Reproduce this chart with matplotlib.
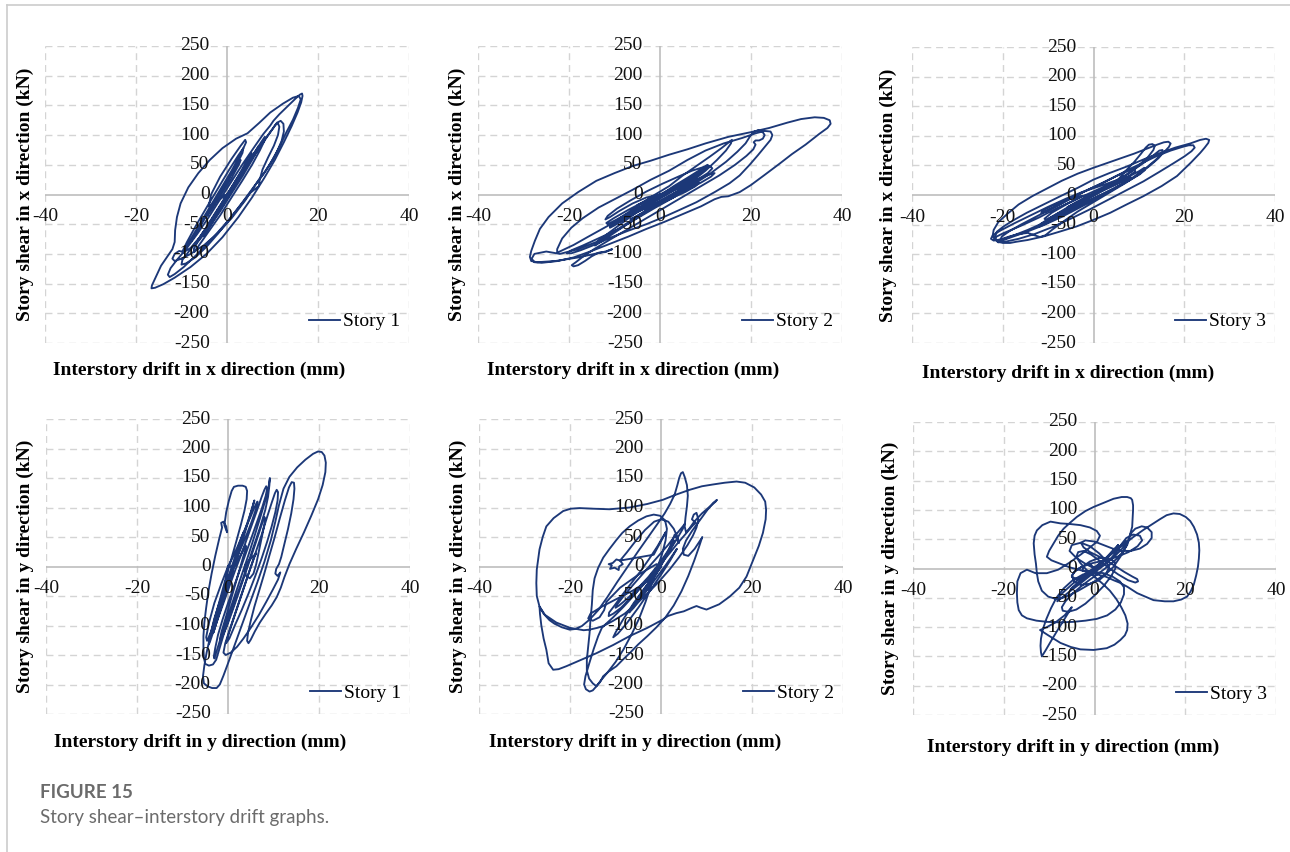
import numpy as np
import matplotlib
matplotlib.use("Agg")
import matplotlib.pyplot as plt
from matplotlib.lines import Line2D

# (interstory drift mm, story shear kN)
x_story1 = [
    (0, 0), (1.5, 18), (3, 38), (4.2, 55), (5, 66), (5.4, 70), (5.3, 64), (4.5, 50), (3, 30), (1, 5),
    (-1, -20), (-3, -44), (-4.5, -62), (-5.2, -70), (-5, -64), (-4, -50), (-2.2, -28), (0, -2), (2, 22),
    (4, 46), (6, 70), (7.5, 88), (8.3, 97), (8.2, 90), (7.2, 74), (5.5, 50), (3.5, 25), (1, -5),
    (-1.5, -35), (-4, -62), (-6, -84), (-7.2, -97), (-7.3, -92), (-6.2, -76), (-4, -50), (-1.5, -20),
    (1, 10), (3.5, 38), (6, 66), (8, 88), (9.6, 106), (10.6, 117), (11.2, 120), (11.5, 114), (11.2, 100),
    (10.3, 82), (9, 62), (7.8, 42), (7.2, 25), (7, 14), (6.3, 10), (5, 2), (3, -18), (0.5, -42), (-2, -66),
    (-4.5, -88), (-7, -106), (-9, -116), (-10, -118), (-9.8, -110), (-8.5, -97), (-6.5, -78), (-4, -50),
    (-1.5, -20), (1, 10), (3.5, 38), (6, 68), (8.2, 92), (10, 110), (11, 121), (11.8, 124), (12.4, 119),
    (12.5, 106), (12, 90), (11, 72), (9.5, 52), (8, 34), (6, 14), (3.5, -12), (0.5, -42), (-3, -72),
    (-6.5, -100), (-9.5, -122), (-11.5, -134), (-12.6, -139), (-13, -135), (-12.4, -124), (-11, -110),
    (-9, -92), (-6.5, -66), (-4, -38), (-1.5, -8), (1, 22), (3.5, 52), (6, 80), (8, 102), (9.5, 116),
    (10.2, 124), (11.5, 135), (13.5, 150), (15, 161), (16, 168), (16.5, 170), (16.6, 166), (16.3, 155),
    (15.5, 138), (14.2, 115), (12.5, 88), (10.5, 58), (8.2, 28), (5.5, -5), (2.5, -38), (-1, -72),
    (-4.5, -100), (-8, -122), (-11.5, -140), (-14, -151), (-15.8, -157), (-16.6, -158), (-16.5, -153),
    (-15.6, -138), (-14.5, -120), (-13, -103), (-12, -92), (-11.5, -80), (-11.4, -60), (-11, -38),
    (-10.2, -15), (-8.5, 12), (-6.3, 36), (-3.8, 58), (-1, 78), (2, 94), (4.5, 103), (7, 120), (9.5, 138),
    (12.3, 153), (14.5, 163), (15.8, 166), (16.2, 160), (15.6, 146), (14.5, 126), (13, 104), (11.5, 80),
    (10, 58), (8.5, 40), (7, 25), (4, -10), (1, -40), (-2, -65), (-5, -85), (-8, -100), (-10, -108),
    (-11.5, -112), (-12, -108), (-11.5, -100), (-10.5, -95), (-9.5, -97), (-8, -90), (-6, -72), (-3.5, -45),
    (-1, -15), (1.5, 15), (4, 45), (6, 70), (7, 82), (6.8, 76), (5.5, 58), (3.5, 32), (1, 2), (-1.5, -28),
    (-4, -56), (-6, -76), (-7, -84), (-6.5, -78), (-4.8, -58), (-2.5, -30), (0, 0), (2, 25), (4, 48),
    (5.3, 62), (5, 56), (3.5, 36), (1.5, 12), (-0.5, -12), (-2.5, -36), (-3.8, -50), (-3.5, -44),
    (-2, -26), (0, 0), (-2, -10), (-4, -20), (-3.5, 0), (-1.5, 30), (1, 60), (3, 82), (4, 92), (4.2, 88),
    (3, 68), (1, 40), (-1.5, 8), (-4, -24), (-6.5, -56), (-8.5, -82), (-9.6, -98), (-9.8, -96),
    (-8.8, -80), (-6.8, -52), (-4.5, -22), (-2, 10), (0.5, 42), (2.5, 66), (3.6, 78), (3.4, 70), (2, 48),
    (-0.5, 16), (-3, -16), (-5.5, -48), (-7.2, -70), (-7.8, -78), (-7, -68), (-5, -40), (-2.5, -8),
    (0, 22), (2, 48), (3, 58), (2.6, 50), (1, 28), (-1.5, -2), (-3.5, -26), (-4.4, -36), (-3.8, -28),
    (-2, -6), (0, 0),
]

x_story2 = [
    (0, 0), (2, 8), (4, 16), (6, 25), (7.5, 32), (8.3, 36), (8, 31), (6.5, 23), (4.5, 13), (2, 2),
    (-1, -10), (-4, -22), (-6.5, -33), (-8, -40), (-8.5, -42), (-8, -37), (-6, -28), (-3, -15), (0, -2),
    (3, 14), (6, 28), (8.5, 40), (10, 48), (10.5, 50), (10.2, 44), (8.5, 34), (6, 22), (3, 8), (-0.5, -8),
    (-4, -24), (-7.5, -40), (-10, -52), (-11, -56), (-10.6, -50), (-8.5, -38), (-5, -20), (-1.5, -2),
    (2, 14), (5, 32), (8, 48), (11, 64), (13.5, 78), (15, 87), (15.8, 92), (15.6, 86), (14.5, 74),
    (12.5, 58), (10, 40), (7, 22), (3.5, 4), (0, -14), (-4, -34), (-8, -54), (-11.5, -72), (-13.5, -82),
    (-14.3, -86), (-13.8, -80), (-11.5, -66), (-8, -46), (-4, -24), (0, -4), (-4, -20), (-8, -38),
    (-12, -55), (-16, -72), (-19, -85), (-21.5, -94), (-22.6, -98), (-22.6, -92), (-21.5, -74),
    (-19.5, -56), (-17, -40), (-13.5, -22), (-10, -8), (-6, 8), (-2, 25), (2, 40), (6, 58), (10, 74),
    (14, 86), (18, 95), (21, 103), (23, 107), (24.3, 106), (24.7, 100), (24.3, 92), (23, 80), (21.5, 66),
    (19.7, 50), (17.5, 32), (15.3, 19), (12, 4), (8, -13), (4, -27), (0.5, -39), (-3, -50), (-7, -61),
    (-11, -73), (-14.5, -85), (-17.5, -94), (-19.5, -99), (-20.5, -99), (-19.5, -94), (-17, -86),
    (-13, -72), (-9, -58), (-5, -40), (-1, -22), (3, -5), (7, 15), (11, 35), (14.5, 55), (17, 72),
    (18.8, 86), (19.8, 98), (20.5, 105), (21.5, 108), (22.5, 106), (23, 100), (22.6, 94), (21.8, 91),
    (21, 91), (20.6, 88), (21, 84), (20.5, 76), (19, 65), (16.5, 50), (13, 32), (9, 14), (5, -4), (1, -22),
    (-3, -40), (-7, -58), (-11, -76), (-14.5, -92), (-17, -105), (-18.5, -114), (-19.4, -119), (-19, -121),
    (-18, -119), (-16.5, -112), (-15, -104), (-13.5, -98), (-12, -97), (-10.5, -92), (-12, -96),
    (-18, -106), (-23, -112), (-27, -114), (-28.3, -112), (-28.6, -105), (-28.3, -95), (-27.5, -78),
    (-26.4, -58), (-24.5, -38), (-21.5, -15), (-18, 4), (-14, 23), (-10, 36), (-6, 48), (-2, 57), (2, 67),
    (6, 76), (10, 86), (15, 97), (20, 105), (24, 112), (28, 121), (31, 127), (34, 130), (36, 129),
    (37.3, 125), (37.5, 119), (36.8, 112), (35, 102), (32, 84), (29, 68), (26.3, 52), (23, 33), (20, 16),
    (17.5, 4), (15, -3), (13.5, -4), (12, -8), (9, -20), (5, -33), (1, -46), (-3, -58), (-7, -71),
    (-11, -83), (-15, -95), (-19, -106), (-22.5, -112), (-26, -115), (-27.6, -114), (-28.2, -108),
    (-27.6, -100), (-25, -96), (-22, -100), (-18, -92), (-14, -80), (-10, -62), (-6, -42), (-2, -22),
    (2, -5), (5, 8), (7.5, 17), (8.5, 20), (7.8, 14), (5.5, 4), (2, -8), (-2, -20), (-5.5, -30),
    (-6.5, -33), (-5, -25), (-2, -12), (1, 2), (4, 16), (7, 30), (9, 40), (9.8, 44), (9.2, 38), (7, 28),
    (4, 14), (0.5, -2), (-3, -16), (-6.5, -30), (-9.5, -42), (-11.5, -50), (-11.8, -48), (-10.2, -40),
    (-7, -26), (-3, -10), (0, 0), (-3, -5), (-6, -15), (-9, -28), (-11, -38), (-12, -42), (-11.5, -36),
    (-9.5, -24), (-6.5, -10), (-3, 5), (0.5, 18), (4, 30), (7, 40), (9.5, 46), (11, 48), (11.5, 44),
    (10.5, 36), (8, 24), (5, 10), (1.5, -4), (-2, -18), (-5.5, -32), (-8.5, -44), (-10.5, -52),
    (-11, -54), (-10, -48), (-7.5, -36), (-4.5, -22), (-1, -8), (2.5, 6), (6, 18), (9, 28), (11, 34),
    (12, 36), (11.2, 30), (9, 20), (6, 8), (2.5, -6), (-1, -20), (-4, -32), (-6, -40), (-6.5, -42),
    (-5, -36), (-2.5, -24), (0.5, -10), (3.5, 2), (6.5, 14), (8, 20), (6, 16), (3, 8), (0, -2),
    (-3, -12), (-5, -18), (-3, -10), (0, 0),
]

x_story3 = [
    (0, 0), (2, 7), (4, 14), (6, 21), (7.5, 27), (8.2, 30), (8, 26), (6.5, 19), (4.5, 11), (2, 2),
    (-1, -9), (-4, -20), (-6.5, -30), (-8.3, -37), (-9, -40), (-8.6, -35), (-7, -28), (-4, -16), (-1, -4),
    (2, 8), (5, 20), (8, 32), (10, 40), (11.2, 46), (11.3, 42), (10.2, 35), (8, 25), (5, 13), (2, 1),
    (-2, -14), (-6, -30), (-9.5, -44), (-11.8, -53), (-12.3, -54), (-11.5, -48), (-9, -36), (-5.5, -20),
    (-2, -5), (2, 10), (5, 22), (7, 40), (9, 56), (10.5, 70), (11.5, 80), (12.2, 85), (13, 86), (13.5, 83),
    (13.2, 76), (12, 64), (10, 50), (7.5, 35), (4.5, 19), (1, 3), (-3, -14), (-7, -31), (-11, -47),
    (-14.5, -59), (-17.5, -68), (-19.6, -74), (-21, -77), (-21.8, -75), (-22.2, -68), (-22, -59), (-21, -46),
    (-19, -32), (-16.5, -16), (-13.5, -2), (-10, 12), (-7, 24), (-3.5, 36), (0, 46), (3, 54), (6, 62),
    (9, 70), (12, 79), (14, 85), (15.5, 89), (16.5, 90), (17, 87), (16.6, 81), (15.5, 72), (13.5, 58),
    (11, 42), (8, 26), (4.5, 10), (1, -5), (-3, -21), (-7, -37), (-11, -51), (-15, -63), (-18, -71),
    (-19.8, -76), (-20.5, -75), (-20.2, -70), (-18.5, -61), (-16, -50), (-13, -38), (-9.5, -24), (-6, -10),
    (-2.5, 4), (1, 17), (4.5, 30), (8, 44), (11, 55), (14, 66), (17, 75), (19.5, 81), (21, 84), (22, 84),
    (22.3, 80), (21.6, 74), (20, 65), (17.5, 53), (14.5, 39), (11, 23), (7, 7), (3, -9), (-1, -25),
    (-5, -40), (-9, -54), (-13, -66), (-16.5, -74), (-19.5, -79), (-21, -80), (-21.5, -76), (-21.7, -70),
    (-21.3, -62), (-19.8, -53), (-17.5, -42), (-14.7, -30), (-11, -16), (-7.3, -2), (-3.5, 12), (0, 26),
    (3.5, 37), (7.3, 48), (11, 60), (14.7, 71), (18, 80), (21.3, 87), (23.5, 93), (24.8, 95), (25.5, 93),
    (25.3, 88), (24.5, 80), (23.5, 71), (21.5, 55), (18.4, 32), (15, 15), (11, -2), (7.3, -16), (3.7, -30),
    (0, -42), (-3.7, -53), (-7.5, -62), (-11, -70), (-14.5, -76), (-17, -79), (-18.4, -81), (-20, -81),
    (-21.3, -78), (-21.8, -72), (-20, -65), (-16, -52), (-12, -38), (-8, -22), (-4, -8), (0, 6), (4, 20),
    (8, 38), (11, 54), (13.2, 67), (14.5, 75), (15.2, 76), (15.3, 71), (14.3, 62), (12.5, 50), (10, 35),
    (7, 20), (3.5, 4), (0, -12), (-3.5, -28), (-6.5, -44), (-9, -58), (-10.6, -68), (-11.8, -71),
    (-13, -68), (-14.5, -64), (-16.5, -66), (-18.5, -70), (-20.5, -75), (-22, -77), (-22.6, -74),
    (-22.2, -68), (-20.5, -60), (-17.5, -48), (-14, -35), (-10, -20), (-6, -6), (-2.5, 5), (1, 14), (4, 22),
    (5.5, 26), (5, 22), (3, 14), (0, 2), (-3, -10), (-5.5, -20), (-5.8, -21), (-4, -13), (-1.5, -4), (0, 0),
    (-3, -2), (-6, -8), (-9, -18), (-11, -26), (-11.5, -30), (-10.5, -28), (-8, -18), (-5, -6), (-1.5, 8),
    (2, 20), (5, 32), (7.5, 40), (9, 44), (9.2, 40), (7.8, 32), (5, 20), (1.5, 6), (-2, -8), (-5.5, -22),
    (-8.5, -34), (-10.5, -42), (-10.8, -40), (-9.2, -30), (-6, -16), (-2.5, -2), (0, 0),
]

y_story1 = [
    (0, 0), (1, 15), (2, 32), (3, 50), (4, 68), (5, 85), (5.8, 100), (6.3, 108), (6.5, 110), (6.4, 104),
    (6, 94), (5.2, 76), (4.2, 56), (3, 34), (1.8, 12), (0.5, -12), (-0.8, -38), (-2, -64), (-3, -88),
    (-3.7, -110), (-4.1, -126), (-4.2, -132), (-3.9, -126), (-3.2, -110), (-2.2, -88), (-1, -62), (0.3, -34),
    (1.6, -6), (3, 22), (4.3, 50), (5.5, 76), (6.6, 100), (7.4, 118), (8, 130), (8.4, 136), (8.6, 132),
    (8.3, 120), (7.5, 100), (6.5, 78), (5.3, 52), (4, 24), (2.7, -4), (1.3, -34), (0, -62), (-1.2, -90),
    (-2.2, -116), (-2.8, -138), (-3.1, -152), (-3, -156), (-2.6, -146), (-1.8, -126), (-0.7, -100),
    (0.5, -72), (1.8, -42), (3.2, -10), (4.6, 22), (6, 56), (7.2, 86), (8.2, 112), (8.9, 134), (9.2, 150),
    (9.1, 138), (8.8, 118), (8.2, 96), (7.2, 70), (6, 42), (4.7, 12), (3.3, -20), (1.8, -52), (0.4, -84),
    (-0.9, -114), (-1.9, -140), (-2.6, -158), (-3.3, -166), (-4.2, -168), (-5, -165), (-5.3, -155),
    (-5.4, -138), (-5.4, -118), (-5.2, -95), (-4.8, -70), (-4.3, -42), (-3.6, -12), (-2.8, 18), (-1.9, 48),
    (-1.3, 66), (-1.5, 74), (-1, 76), (-0.4, 68), (-0.2, 58), (-0.8, 70), (-0.4, 92), (0.2, 112),
    (0.8, 128), (1.3, 135), (2.2, 137), (3.2, 137), (3.9, 135), (4.2, 128), (4.1, 114), (3.6, 94),
    (2.8, 70), (1.8, 42), (0.7, 12), (-0.5, -20), (-1.7, -54), (-2.9, -88), (-3.9, -118), (-4.7, -146),
    (-5.2, -168), (-5.5, -186), (-5.3, -198), (-4.5, -203), (-3.5, -206), (-2.5, -206), (-1.8, -200),
    (-1, -185), (0.2, -160), (1.6, -130), (3.2, -96), (4.8, -62), (6.4, -28), (8, 8), (9.4, 44),
    (10.4, 76), (11.2, 104), (12.2, 132), (13.5, 152), (15.2, 168), (17, 181), (18.7, 191), (19.8, 195),
    (20.6, 194), (21.2, 188), (21.5, 176), (21.4, 160), (20.8, 138), (19.8, 114), (18.3, 86), (16.7, 58),
    (15, 30), (13.5, 4), (12.4, -18), (11.6, -36), (10.7, -52), (9.6, -66), (8.3, -80), (7, -95),
    (5.9, -110), (5, -124), (4.5, -130), (4.2, -126), (4.4, -112), (5, -92), (5.8, -68), (6.8, -42),
    (7.9, -14), (9, 16), (10.2, 48), (11.4, 82), (12.5, 112), (13.4, 134), (14, 143), (14.5, 142),
    (14.6, 132), (14.4, 114), (13.9, 90), (13.2, 64), (12.4, 38), (11.7, 16), (11.2, 4), (10.6, -4),
    (10.4, -12), (10.9, -16), (11.5, -10), (11, -22), (9.8, -40), (8.4, -60), (6.8, -82), (5, -104),
    (3.4, -122), (2, -136), (0.6, -146), (-0.5, -150), (-1, -146), (-0.6, -130), (0.5, -104), (1.8, -74),
    (3.2, -42), (4.6, -10), (6, 22), (7.4, 54), (8.6, 84), (9.6, 108), (10.3, 124), (10.7, 130), (11, 126),
    (10.9, 112), (10.4, 92), (9.6, 68), (8.6, 42), (7.4, 14), (6, -16), (4.5, -46), (3, -74), (1.5, -100),
    (0.3, -122), (-0.4, -130), (0, -118), (1, -94), (2.2, -66), (3.5, -36), (4.8, -6), (5.8, 16), (6.2, 22),
    (5.6, 18), (4.6, 10), (3.9, 4), (3.6, -6), (4, -16), (4.8, -20), (5.6, -12), (6.2, 4), (6.8, 26),
    (7.6, 56), (8.2, 80), (8, 84), (7.2, 66), (6, 38), (4.6, 6), (3, -30), (1.4, -66), (0, -96),
    (-1.2, -118), (-1.8, -124), (-1.4, -110), (-0.4, -84), (0.8, -52), (2, -20), (3.2, 12), (4, 34),
    (3.8, 36), (2.8, 20), (1.4, 0), (0, 0), (-1.5, -30), (-3, -62), (-4.2, -96), (-4.8, -120),
    (-4.6, -126), (-3.6, -108), (-2.2, -76), (-0.8, -42), (0.8, -6), (2.4, 32), (4, 68), (5.2, 96),
    (5.8, 112), (5.6, 106), (4.6, 80), (3.2, 44), (1.6, 6), (0, -34), (-1.6, -72), (-2.8, -102),
    (-3.2, -112), (-2.6, -96), (-1.2, -62), (0.2, -28), (1.6, 8), (2.8, 40), (3.4, 58), (3, 50),
    (1.8, 22), (0.4, -10), (-0.6, -30), (0, 0),
]

y_story2 = [
    (0, 0), (-1, -12), (-2.5, -28), (-4, -45), (-5, -58), (-5.3, -62), (-4.8, -56), (-3.5, -40), (-1.8, -20),
    (0, 2), (1.5, 22), (2.6, 38), (3, 44), (2.6, 40), (1.3, 24), (-0.5, 4), (-2.8, -18), (-5.2, -38),
    (-7.5, -55), (-9.2, -66), (-10, -70), (-9.6, -64), (-8.2, -50), (-6, -30), (-3.5, -8), (-1, 14),
    (1.5, 36), (3.5, 56), (4.8, 68), (5.2, 72), (4.8, 64), (3.6, 48), (1.8, 26), (-0.5, 2), (-3, -22),
    (-5.6, -46), (-8.2, -68), (-10.5, -86), (-12.2, -98), (-13, -104), (-13.8, -118), (-14.8, -140),
    (-15.8, -165), (-16.6, -186), (-16.9, -200), (-16.5, -208), (-15.7, -212), (-15, -210), (-14.3, -204),
    (-13.2, -193), (-11.8, -180), (-10, -162), (-8.2, -140), (-6.4, -114), (-4.8, -88), (-3.4, -60),
    (-2.2, -32), (-1, -6), (0.2, 20), (1, 44), (1.3, 64), (0.9, 78), (-0.2, 86), (-1.6, 88), (-3.2, 85),
    (-5, 78), (-6.9, 68), (-8.5, 57), (-9.8, 45), (-11.3, 30), (-12.7, 15), (-13.8, -2), (-14.6, -20),
    (-15, -40), (-15.2, -65), (-15.5, -90), (-15.7, -113), (-16, -136), (-16.3, -158), (-16.3, -176),
    (-15.8, -190), (-15, -198), (-14.2, -203), (-13.4, -196), (-12.7, -186), (-11.5, -178), (-9.8, -169),
    (-8.4, -158), (-6.9, -147), (-5, -132), (-3, -118), (-1, -103), (1, -86), (2.8, -66), (4.5, -42),
    (6, -16), (7.3, 10), (8.3, 32), (8.9, 46), (9.1, 50), (8.6, 44), (7.4, 30), (6, 18), (5, 20), (4.8, 30),
    (5.5, 44), (6.8, 60), (8.5, 78), (10.2, 96), (11.5, 108), (12.3, 113), (12, 110), (10.8, 102), (9, 90),
    (7.3, 76), (6.2, 64), (5.5, 58), (5.2, 68), (5.4, 84), (5.7, 102), (5.9, 120), (5.7, 138), (5.2, 152),
    (4.8, 160), (4.4, 158), (4, 150), (3.6, 138), (3, 122), (2, 106), (0.8, 90), (-0.8, 72), (-2.8, 50),
    (-5, 26), (-7.3, 0), (-9.6, -26), (-11.8, -52), (-13.8, -74), (-15.7, -90), (-17.4, -101),
    (-18.9, -106), (-20.1, -107), (-21.8, -103), (-23.4, -97), (-24.5, -91), (-25.8, -80), (-26.7, -68),
    (-27.3, -50), (-27.4, -28), (-27.3, -5), (-26.7, 29), (-26, 50), (-25.2, 68), (-23.6, 82), (-21.5, 94),
    (-19.8, 98), (-17.9, 99), (-15, 98), (-11.3, 97), (-6.9, 100), (-3, 106), (0.4, 113), (3, 121),
    (6.3, 130), (9, 136), (11.4, 139), (14, 142), (16.6, 144), (18.5, 142), (20.5, 134), (22, 122),
    (22.9, 110), (23.1, 96), (23, 80), (22.4, 57), (21.5, 35), (20.2, 10), (18.8, -17), (17.2, -36),
    (15.1, -51), (12.8, -64), (10, -73), (8.8, -70), (7.8, -67), (6.8, -70), (5, -76), (3.4, -79),
    (1.5, -84), (0.4, -90), (-3, -104), (-6.9, -118), (-10.5, -133), (-14.2, -147), (-17.5, -158),
    (-20.8, -169), (-22.5, -174), (-23.7, -175), (-24.7, -164), (-25.2, -141), (-25.8, -122), (-26.3, -100),
    (-26.6, -80), (-26.7, -68), (-25.5, -82), (-23, -95), (-20, -104), (-17, -108), (-15.7, -107),
    (-14, -104), (-12.7, -101), (-10.5, -92), (-8, -80), (-5.5, -64), (-3, -46), (-0.5, -26), (2, -4),
    (4, 16), (5.8, 36), (7, 52), (7.8, 66), (8.2, 80), (7.8, 91), (7.2, 88), (6.8, 80), (7.6, 74),
    (6.8, 68), (5.5, 56), (3.5, 38), (1, 14), (-1.5, -10), (-4, -32), (-6.5, -52), (-8.8, -70),
    (-10.5, -80), (-11.5, -84), (-11.4, -78), (-10.2, -66), (-8.5, -48), (-6.5, -28), (-4.5, -8),
    (-2.5, 14), (-0.8, 34), (0.4, 50), (1, 58), (0.8, 54), (-0.2, 40), (-1.6, 20), (-9, 10), (-9.8, 12),
    (-10.6, 6), (-11.5, 4), (-10.8, 2), (-11.2, -4), (-10.2, -2), (-9.3, -6), (-9.2, 0), (-8.4, 4),
    (-9, 10), (-7.5, 24), (-5.5, 44), (-3.5, 62), (-1.5, 76), (0, 80), (1.6, 76), (2.8, 64), (3.6, 50),
    (4, 40), (3.4, 48), (3, 54), (2.6, 46), (1.8, 30), (0.6, 10), (-1, -12), (-2.5, -30), (-3.4, -42),
    (-3.2, -36), (-2, -20), (-0.6, -2), (0, 0), (-3, -30), (-6, -62), (-8.5, -92), (-10, -112),
    (-10.5, -120), (-9.5, -114), (-7.5, -96), (-5, -70), (-2.5, -42), (0, -14), (2, 10), (3.2, 26),
    (3.5, 30), (2.8, 22), (1, 2), (-1.5, -24), (-4, -50), (-6, -70), (-7, -78), (-6.5, -70), (-4.5, -48),
    (-2, -20), (-6, -40), (-10, -56), (-13, -68), (-15.5, -80), (-16, -88), (-15, -92), (-13.5, -86),
    (-12.5, -74), (-12, -60), (-9, -36), (-5, -14), (-1, 4), (0, 0),
]

y_story3 = [
    (0, 0), (1.5, 10), (3, 22), (4.2, 32), (5, 38), (5.2, 40), (4.8, 36), (3.6, 26), (2, 12), (0, -3),
    (-2, -16), (-3.8, -27), (-5, -34), (-5.3, -36), (-4.8, -32), (-3.4, -22), (-1.6, -10), (0.5, 4),
    (2.6, 18), (4.6, 32), (6.2, 42), (7, 47), (7, 42), (6, 33), (4.2, 19), (2, 5), (-0.6, -10), (-3.2, -26),
    (-5.6, -40), (-7.4, -51), (-8.2, -56), (-8, -50), (-6.8, -40), (-4.8, -26), (-2.4, -12), (0.2, 3),
    (3, 20), (6, 38), (8.6, 54), (10.8, 66), (12.6, 75), (14.4, 84), (15.9, 91), (17.4, 94), (18.8, 93),
    (20.1, 88), (21.1, 81), (21.9, 71), (22.6, 58), (23, 44), (23.1, 31), (23, 17), (22.8, 3), (22.4, -12),
    (21.9, -27), (21.2, -39), (20.4, -48), (19.1, -53), (17.4, -56), (15.5, -56), (13, -54), (11.2, -48),
    (9.4, -42), (7.2, -31), (5.5, -24), (4.2, -20), (2.5, -14), (0.5, -10), (-1.5, -6), (-3.5, -2),
    (-5.5, 2), (-7.5, 8), (-9.5, 14), (-10.5, 20), (-10, 30), (-9, 43), (-8, 56), (-6.8, 68), (-5.4, 78),
    (-3.9, 88), (-2, 98), (-0.2, 105), (2, 112), (4.2, 119), (6, 122), (7.2, 122), (8, 120), (8.3, 117),
    (8.5, 108), (8.5, 100), (8.4, 86), (8.3, 71), (7.8, 57), (7.2, 43), (6.5, 31), (5.7, 20), (4.9, 11),
    (4.2, 3), (3, -6), (1.5, -14), (0, -22), (-1.8, -30), (-3.6, -38), (-5.4, -45), (-7, -50), (-8.5, -52),
    (-10.2, -48), (-11.6, -38), (-12.4, -22), (-12.7, -8), (-12.9, 8), (-13.2, 24), (-13.4, 43),
    (-13.2, 56), (-12.7, 65), (-11.5, 74), (-9.7, 80), (-7.5, 77), (-5.5, 76), (-3.1, 74), (-1, 70),
    (0.5, 64), (1.2, 56), (0.6, 46), (-1, 36), (-3, 24), (-5.5, 10), (-8, -2), (-10.5, -8), (-13, -8),
    (-14.9, -2), (-16.3, -8), (-17, -22), (-17.1, -42), (-17, -58), (-16.7, -71), (-16, -80), (-14.9, -85),
    (-12.8, -89), (-10.5, -91), (-7.5, -92), (-4.6, -91), (-2, -89), (0.5, -86), (2.8, -80), (4.6, -70),
    (5.8, -58), (6.5, -44), (6.5, -32), (5.6, -22), (4, -14), (2, -8), (0, -6), (-2.5, -10), (-4.8, -20),
    (-6.8, -34), (-8.4, -50), (-9.6, -68), (-10.6, -86), (-11.4, -104), (-11.8, -120), (-11.9, -132),
    (-11.8, -143), (-11.6, -150), (-10.8, -140), (-9.6, -124), (-8.2, -106), (-6.6, -86), (-5, -66),
    (-6.6, -80), (-8.6, -92), (-10.5, -100), (-12, -105), (-10.2, -114), (-7.5, -127), (-5.2, -134),
    (-3.1, -138), (-0.2, -139), (2.7, -136), (4.4, -130), (5.7, -122), (6.7, -114), (7.2, -105),
    (7.3, -94), (6.8, -80), (5.9, -66), (4.8, -52), (3.4, -38), (1.8, -26), (0, -14), (-1.8, -2),
    (-3.2, 10), (-4, 20), (-3.6, 28), (-2.4, 30), (-0.8, 24), (1, 14), (3, 2), (5.2, -10), (7.4, -20),
    (9, -24), (9.6, -22), (9.4, -18), (8.4, -14), (6.6, -6), (4.6, 4), (2.5, 14), (0.6, 22), (-1, 28),
    (-2.4, 36), (-3, 44), (-2, 48), (0, 46), (2, 40), (4, 34), (6, 30), (8, 30), (10, 34), (11.6, 42),
    (12.6, 52), (12.6, 62), (11.6, 70), (10.4, 72), (9, 68), (8, 60), (7.6, 50), (7.2, 40), (6.2, 28),
    (4.8, 16), (3, 4), (1, -8), (-1.2, -20), (-3.2, -32), (-5, -44), (-6.4, -56), (-7.2, -66), (-7, -72),
    (-5.8, -74), (-4, -70), (-2, -60), (0, -46), (2, -30), (3.6, -14), (4.6, 0), (4.4, 12), (3, 18),
    (1, 18), (-1, 12), (-2.5, 4), (-2.6, -4), (-1.2, -6), (0, 0), (-2, 8), (-4, 18), (-5.5, 30), (-5, 40),
    (-3, 44), (-1, 38), (1, 26), (2.5, 14), (3.2, 2), (2.5, -10), (1, -20), (-1, -26), (-3, -28),
    (-4.5, -22), (-5, -12), (-4, -2), (-2, 6), (0, 10), (2.5, 14), (5, 20), (7.5, 28), (9.5, 38),
    (10.5, 48), (10, 56), (8.5, 58), (7, 52), (6, 42), (5, 30), (3.5, 16), (1.5, 4), (-0.5, -6),
    (-2.5, -14), (-4, -18), (-5, -14), (-4.5, -6), (-3, 2), (-1, 8), (0, 0),
]

panels = [
    # data, direction, story, (left, top, right, bottom) px, ylabel x px, xlabel centre px
    (x_story1, "x", 1, (45, 46, 409, 343), 25, (199, 370)),
    (x_story2, "x", 2, (478, 46, 842, 343), 457, (633, 370)),
    (x_story3, "x", 3, (912, 47, 1275, 343), 888, (1068, 373)),
    (y_story1, "y", 1, (46, 419, 410, 714), 25, (200, 742)),
    (y_story2, "y", 2, (479, 419, 843, 714), 458, (635, 742)),
    (y_story3, "y", 3, (913, 422, 1276, 715), 890, (1073, 747)),
]

x_ticks = [-40, -20, 0, 20, 40]
y_ticks = [250, 200, 150, 100, 50, 0, -50, -100, -150, -200, -250]

W, H = 1290, 852
serif = "Liberation Serif"
line_color = "#1c3878"
grid_color = "#d4d4d4"

fig = plt.figure(figsize=(W / 100, H / 100), dpi=100)

for data, direction, story, (l, t, r, b), ylab_x, (xl_x, xl_y) in panels:
    pts = np.array(data, dtype=float)
    ax = fig.add_axes([l / W, 1 - b / H, (r - l) / W, (b - t) / H])
    ax.set_xlim(-40, 40)
    ax.set_ylim(-250, 250)
    for s in ax.spines.values():
        s.set_visible(False)
    ax.set_xticks([])
    ax.set_yticks([])

    # dashed grid, solid zero axes
    for xv in x_ticks:
        if xv != 0:
            ax.axvline(xv, color=grid_color, lw=1.0, dashes=(5, 3.5), zorder=0)
    for yv in y_ticks:
        if yv != 0:
            ax.axhline(yv, color=grid_color, lw=1.0, dashes=(5, 3.5), zorder=0)
    ax.axhline(0, color="#bdbdbd", lw=1.2, zorder=0.5)
    ax.axvline(0, color="#bdbdbd", lw=1.2, zorder=0.5)

    ax.plot(pts[:, 0], pts[:, 1], color=line_color, lw=1.35, label=f"Story {story}",
            solid_joinstyle="round", zorder=2)

    # tick labels sit on the zero axes (Excel style)
    for yv in y_ticks:
        ax.annotate(f"{yv}", xy=(0, yv), xytext=(-12.5, 0), textcoords="offset points",
                    ha="right", va="center", fontsize=14, family=serif, color="#111111",
                    annotation_clip=False, zorder=3)
    for xv in x_ticks:
        ax.annotate(f"{xv}", xy=(xv, 0), xytext=(0, -10), textcoords="offset points",
                    ha="center", va="top", fontsize=14, family=serif, color="#111111",
                    annotation_clip=False, zorder=3)

    ax.legend(loc="center right", bbox_to_anchor=(0.975, 0.072), frameon=False,
              prop={"family": serif, "size": 14}, handlelength=1.6, handletextpad=0.15,
              borderpad=0, borderaxespad=0)

    fig.text(ylab_x / W, 1 - ((t + b) / 2) / H, f"Story shear in {direction} direction (kN)",
             rotation=90, ha="center", va="center", fontsize=14, fontweight="bold", family=serif)
    fig.text(xl_x / W, 1 - xl_y / H, f"Interstory drift in {direction} direction (mm)",
             ha="center", va="center", fontsize=14, fontweight="bold", family=serif)

# page frame
fig.add_artist(Line2D([7 / W, 1], [1 - 5 / H, 1 - 5 / H], color="#cccccc", lw=1.2))
fig.add_artist(Line2D([7 / W, 7 / W], [0, 1 - 5 / H], color="#cccccc", lw=1.2))

fig.text(40 / W, 1 - 793 / H, "FIGURE 15", fontsize=13.5, fontweight="bold", family="Lato",
         color="#6b6b6b", va="center", ha="left")
fig.text(40 / W, 1 - 818 / H, "Story shear\u2013interstory drift graphs.", fontsize=13.5,
         family="Lato", color="#6b6b6b", va="center", ha="left")

fig.savefig("out.png", dpi=100)
